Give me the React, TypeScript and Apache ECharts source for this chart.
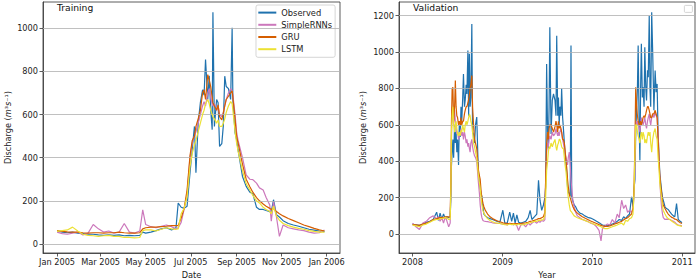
import React, { useEffect, useRef } from "react";
import * as echarts from "echarts";

const SERIES_NAMES = ["Observed", "SimpleRNNs", "GRU", "LSTM"];
const COLORS = ["#1f72ae", "#cc78bc", "#d55e00", "#ece133"];

// ---------- Training (days after 2005-01-01) ----------
const trainStart = "2005-01-01";
const trainDays = [0, 7, 14, 21, 28, 35, 42, 49, 56, 63, 70, 77, 84, 91, 98, 105, 112, 116, 120, 127, 134, 141, 148, 155, 161, 164, 168, 172, 176, 180, 183, 186, 188, 191, 194, 197, 199, 201, 204, 206, 208, 210, 211, 213, 216, 218, 220, 223, 225, 227, 229, 232, 235, 237, 238, 241, 243, 245, 251, 256, 261, 265, 270, 274, 279, 283, 288, 290, 293, 297, 301, 306, 313, 320, 327, 334, 341, 348, 355, 362];
const trainObserved = [60, 55, 52, 55, 50, 48, 45, 45, 42, 40, 42, 40, 42, 38, 40, 38, 40, 55, 50, 55, 62, 70, 75, 65, 75, 190, 170, 165, 175, 330, 440, 545, 330, 560, 655, 715, 690, 855, 670, 780, 620, 530, 1075, 545, 670, 655, 452, 465, 545, 778, 730, 720, 670, 1003, 670, 515, 485, 437, 313, 267, 240, 233, 170, 160, 160, 155, 150, 150, 205, 135, 125, 108, 95, 88, 82, 75, 68, 64, 60, 57];
const trainRNN = [55, 48, 45, 50, 55, 42, 50, 90, 70, 55, 60, 50, 55, 95, 55, 50, 60, 158, 90, 80, 75, 82, 88, 80, 70, 75, 100, 160, 230, 400, 470, 500, 520, 560, 600, 640, 660, 640, 700, 720, 680, 650, 640, 650, 620, 640, 600, 590, 610, 640, 670, 700, 720, 710, 690, 600, 520, 480, 400, 320, 300, 298, 282, 260, 250, 215, 180, 105, 195, 125, 35, 88, 75, 70, 65, 62, 55, 50, 52, 65];
const trainGRU = [62, 58, 56, 55, 55, 52, 50, 52, 52, 50, 52, 52, 55, 52, 50, 50, 52, 70, 75, 78, 78, 80, 82, 85, 85, 85, 120, 165, 250, 410, 480, 500, 545, 580, 620, 700, 715, 670, 785, 760, 730, 680, 655, 640, 620, 645, 590, 575, 605, 640, 670, 685, 700, 710, 680, 580, 500, 470, 370, 300, 265, 240, 215, 200, 185, 175, 165, 160, 165, 150, 140, 130, 118, 108, 98, 88, 80, 72, 65, 60];
const trainLSTM = [58, 62, 65, 78, 60, 45, 40, 38, 35, 38, 40, 35, 35, 30, 30, 28, 30, 62, 65, 65, 60, 68, 75, 70, 68, 70, 140, 165, 220, 360, 420, 460, 480, 520, 560, 600, 620, 650, 670, 650, 620, 600, 590, 580, 560, 575, 545, 545, 560, 580, 610, 640, 660, 650, 620, 520, 470, 430, 340, 280, 250, 225, 200, 190, 170, 160, 150, 140, 175, 130, 110, 95, 85, 78, 72, 68, 62, 58, 55, 55];
const trainTickDates = ["2005-01-01", "2005-03-01", "2005-05-01", "2005-07-01", "2005-09-01", "2005-11-01", "2006-01-01"];
const trainTickLabels = ["Jan 2005", "Mar 2005", "May 2005", "Jul 2005", "Sep 2005", "Nov 2005", "Jan 2006"];
const trainYTicks = [0, 200, 400, 600, 800, 1000];

// ---------- Validation (days after 2008-01-01) ----------
const valStart = "2008-01-01";
const valDays = [0, 14, 28, 42, 56, 70, 84, 98, 105, 112, 119, 126, 133, 140, 147, 153, 156, 158, 161, 164, 167, 171, 174, 177, 180, 183, 187, 190, 194, 197, 200, 204, 207, 211, 214, 218, 221, 225, 228, 231, 234, 237, 241, 244, 248, 252, 256, 261, 265, 268, 272, 275, 279, 282, 286, 290, 296, 305, 315, 325, 335, 345, 355, 367, 375, 385, 395, 403, 410, 417, 424, 431, 440, 450, 460, 470, 478, 485, 495, 505, 512, 518, 525, 532, 538, 541, 545, 549, 552, 555, 558, 563, 568, 573, 579, 583, 586, 590, 593, 596, 599, 603, 606, 610, 613, 617, 620, 624, 627, 630, 633, 637, 641, 644, 647, 652, 657, 663, 670, 680, 690, 700, 712, 724, 736, 748, 758, 766, 772, 782, 792, 802, 812, 822, 832, 840, 850, 858, 866, 874, 882, 890, 896, 900, 904, 907, 911, 914, 917, 921, 924, 927, 930, 934, 937, 941, 944, 948, 951, 955, 958, 962, 965, 968, 972, 976, 981, 986, 990, 994, 998, 1002, 1005, 1009, 1012, 1016, 1019, 1026, 1032, 1039, 1046, 1053, 1060, 1066, 1073, 1080, 1088, 1095];
const valObserved = [55, 50, 48, 55, 65, 70, 80, 120, 75, 115, 80, 110, 85, 95, 90, 95, 200, 370, 450, 520, 420, 600, 500, 560, 450, 520, 380, 600, 534, 700, 620, 750, 880, 700, 734, 820, 770, 1008, 650, 990, 700, 750, 1154, 560, 550, 500, 600, 643, 450, 333, 280, 250, 220, 205, 150, 110, 100, 90, 85, 80, 75, 70, 65, 131, 60, 62, 120, 70, 115, 60, 105, 65, 60, 65, 70, 90, 130, 80, 95, 110, 296, 186, 130, 160, 200, 260, 935, 550, 470, 700, 1136, 550, 734, 770, 734, 650, 1090, 650, 750, 600, 700, 650, 800, 640, 585, 500, 440, 380, 333, 260, 233, 220, 210, 1036, 205, 180, 160, 150, 130, 115, 110, 100, 92, 88, 80, 70, 62, 55, 50, 48, 45, 50, 55, 60, 70, 80, 75, 95, 85, 100, 110, 205, 150, 250, 300, 550, 700, 800, 1036, 600, 405, 800, 1045, 750, 807, 700, 1027, 800, 734, 900, 862, 1200, 800, 700, 1218, 1000, 680, 898, 780, 825, 550, 420, 333, 280, 242, 200, 186, 150, 140, 135, 122, 110, 100, 95, 168, 80, 70, 62];
const valRNN = [60, 40, 25, 60, 70, 90, 100, 85, 95, 70, 90, 60, 95, 70, 40, 60, 300, 500, 700, 650, 600, 680, 620, 580, 550, 560, 520, 540, 560, 580, 540, 560, 520, 560, 540, 500, 520, 480, 500, 470, 450, 500, 520, 480, 450, 430, 420, 400, 330, 280, 220, 160, 110, 90, 75, 72, 70, 68, 65, 62, 60, 58, 58, 55, 55, 50, 60, 55, 50, 60, 45, 20, 50, 55, 40, 60, 50, 60, 70, 60, 70, 65, 75, 70, 80, 300, 450, 500, 480, 520, 540, 520, 560, 540, 550, 580, 560, 540, 560, 540, 560, 580, 560, 520, 500, 470, 440, 420, 400, 380, 420, 450, 380, 300, 250, 180, 150, 120, 100, 90, 80, 75, 70, 60, 55, 40, 20, -37, 30, 45, 55, 50, 80, 60, 110, 90, 186, 140, 160, 120, 130, 120, 140, 200, 350, 600, 620, 600, 620, 580, 560, 600, 640, 620, 600, 620, 640, 600, 580, 620, 640, 660, 620, 600, 640, 660, 640, 670, 650, 640, 560, 400, 300, 200, 150, 110, 90, 80, 82, 80, 80, 75, 70, 65, 55, 50, 48, 45];
const valGRU = [52, 50, 48, 55, 60, 68, 80, 85, 88, 90, 92, 90, 95, 95, 95, 95, 300, 600, 800, 807, 620, 700, 844, 700, 650, 640, 600, 620, 600, 640, 600, 620, 620, 660, 680, 700, 700, 720, 740, 760, 800, 820, 871, 700, 600, 520, 500, 470, 400, 350, 320, 300, 230, 200, 170, 150, 130, 110, 95, 85, 78, 72, 68, 62, 60, 58, 58, 58, 58, 58, 57, 58, 58, 60, 62, 65, 70, 72, 75, 80, 85, 85, 90, 95, 120, 300, 500, 560, 520, 580, 600, 600, 580, 560, 590, 620, 600, 560, 620, 580, 600, 580, 560, 520, 520, 500, 460, 400, 360, 300, 260, 220, 200, 185, 170, 150, 135, 125, 115, 105, 95, 88, 80, 72, 65, 58, 52, 48, 45, 42, 42, 45, 50, 55, 60, 65, 70, 78, 85, 90, 100, 110, 140, 250, 500, 807, 700, 650, 620, 600, 600, 620, 600, 620, 640, 650, 640, 660, 680, 700, 700, 680, 660, 640, 640, 660, 660, 680, 660, 640, 520, 400, 320, 260, 230, 180, 160, 140, 125, 110, 100, 92, 88, 82, 80, 70, 62, 58];
const valLSTM = [50, 45, 40, 50, 55, 65, 75, 80, 80, 85, 85, 88, 90, 88, 80, 80, 250, 550, 650, 700, 600, 560, 600, 620, 580, 550, 540, 560, 540, 570, 560, 600, 580, 560, 600, 620, 600, 620, 640, 660, 650, 620, 600, 560, 500, 480, 450, 420, 360, 320, 280, 250, 190, 160, 130, 115, 100, 85, 75, 68, 62, 60, 58, 55, 52, 50, 55, 52, 55, 52, 50, 55, 50, 52, 55, 60, 62, 65, 70, 70, 75, 75, 78, 80, 100, 200, 350, 400, 450, 480, 470, 500, 480, 500, 520, 480, 460, 490, 500, 520, 520, 500, 480, 470, 470, 420, 380, 340, 290, 240, 200, 160, 130, 125, 120, 110, 100, 95, 90, 85, 80, 75, 68, 62, 55, 50, 45, 40, 35, 30, 30, 35, 40, 45, 50, 55, 60, 50, 75, 70, 85, 90, 110, 220, 450, 600, 600, 560, 540, 520, 500, 540, 560, 520, 560, 540, 500, 520, 500, 540, 560, 540, 560, 500, 450, 520, 560, 580, 540, 520, 420, 350, 280, 230, 200, 150, 130, 110, 95, 85, 80, 72, 65, 60, 52, 48, 45, 42];
const valTickDates = ["2008-01-01", "2009-01-01", "2010-01-01", "2011-01-01"];
const valTickLabels = ["2008", "2009", "2010", "2011"];
const valYTicks = [0, 200, 400, 600, 800, 1000, 1200];

const DAY = 86400000;
const ts = (s: string) => Date.parse(s + "T00:00:00Z");
const FONT = "DejaVu Sans";

function toPairs(start: string, days: number[], vals: number[]) {
  const t0 = ts(start);
  return days.map((d, i) => [t0 + d * DAY, vals[i]]);
}

export default function App() {
  const ref = useRef<HTMLDivElement>(null);
  useEffect(() => {
    document.body.style.margin = "0";
    if (!ref.current) return;
    const chart = echarts.init(ref.current, null, { renderer: "svg" });

    const trainTickTs = trainTickDates.map(ts);
    const valTickTs = valTickDates.map(ts);

    const axisLabelStyle = { fontFamily: FONT, fontSize: 8.2, color: "#222" };
    const yName = "Discharge ({it|m}³{it|s}⁻¹)";
    const nameStyle = {
      fontFamily: FONT,
      fontSize: 8.2,
      color: "#222",
      rich: { it: { fontFamily: FONT, fontSize: 8.2, fontStyle: "italic", color: "#222" } },
    };

    const mkX = (idx: number, min: number, max: number, tickTs: number[], labels: string[], name: string) => ({
      type: "value",
      gridIndex: idx,
      min,
      max,
      scale: true,
      name,
      nameLocation: "middle",
      nameGap: 16,
      nameTextStyle: { fontFamily: FONT, fontSize: 8.2, color: "#222", verticalAlign: "top" },
      axisLine: { show: true, onZero: false, lineStyle: { color: "#333", width: 0.8 } },
      axisTick: { show: true, length: 3.5, customValues: tickTs, lineStyle: { color: "#333", width: 0.8 } },
      axisLabel: {
        ...axisLabelStyle,
        margin: 5,
        customValues: tickTs,
        hideOverlap: false,
        formatter: (v: number) => {
          const i = tickTs.indexOf(v);
          return i >= 0 ? labels[i] : "";
        },
      },
      splitLine: { show: false },
    });

    const mkY = (idx: number, min: number, max: number, ticks: number[], gap: number) => ({
      type: "value",
      gridIndex: idx,
      min,
      max,
      name: yName,
      nameLocation: "middle",
      nameRotate: 90,
      nameGap: gap,
      nameTextStyle: nameStyle,
      axisLine: { show: true, onZero: false, lineStyle: { color: "#333", width: 0.8 } },
      axisTick: { show: true, length: 3.5, customValues: ticks, lineStyle: { color: "#333", width: 0.8 } },
      axisLabel: { ...axisLabelStyle, margin: 5, customValues: ticks, formatter: (v: number) => String(v) },
      splitLine: { show: false },
    });

    const gridSeries = (idx: number, ticks: number[]) => ({
      type: "line",
      name: "__grid" + idx,
      xAxisIndex: idx,
      yAxisIndex: idx,
      data: [],
      z: 1,
      silent: true,
      markLine: {
        silent: true,
        symbol: ["none", "none"],
        label: { show: false },
        lineStyle: { color: "#b0b0b0", width: 0.8, type: "solid" },
        data: ticks.map((v) => ({ yAxis: v })),
      },
    });

    const lineSeries = (idx: number, start: string, days: number[], sets: number[][]) =>
      sets.map((vals, i) => ({
        type: "line",
        name: SERIES_NAMES[i],
        xAxisIndex: idx,
        yAxisIndex: idx,
        data: toPairs(start, days, vals),
        showSymbol: false,
        symbol: "none",
        z: 2 + i,
        color: COLORS[i],
        lineStyle: { color: COLORS[i], width: 1.2 },
      }));

    chart.setOption({
      animation: false,
      textStyle: { fontFamily: FONT },
      grid: [
        { left: 43, top: 2, width: 297, height: 251, outerBoundsMode: "none", containLabel: false, show: true, borderColor: "#333", borderWidth: 0.8, backgroundColor: "transparent" },
        { left: 399, top: 2, width: 296, height: 251, outerBoundsMode: "none", containLabel: false, show: true, borderColor: "#333", borderWidth: 0.8, backgroundColor: "transparent" },
      ],
      title: [
        { text: "Training", left: 57, top: 2.5, padding: 0, textStyle: { fontFamily: FONT, fontSize: 9.2, fontWeight: "normal", color: "#111" } },
        { text: "Validation", left: 413, top: 2.5, padding: 0, textStyle: { fontFamily: FONT, fontSize: 9.2, fontWeight: "normal", color: "#111" } },
      ],
      legend: {
        data: SERIES_NAMES,
        orient: "vertical",
        left: 256,
        top: 5,
        padding: [1.5, 3, 2, 2.3],
        itemWidth: 18,
        itemHeight: 2,
        itemGap: 0,
        icon: "rect",
        borderColor: "#cccccc",
        borderWidth: 0.8,
        borderRadius: 2,
        backgroundColor: "#ffffff",
        textStyle: { fontFamily: FONT, fontSize: 8.3, color: "#222", lineHeight: 12.2 },
      },
      graphic: [
        { type: "rect", left: 684, top: 5, shape: { width: 8, height: 7, r: 1 }, style: { fill: "#fff", stroke: "#cccccc", lineWidth: 0.8 } },
      ],
      xAxis: [
        mkX(0, ts(trainStart) - 19 * DAY, ts(trainStart) + 383 * DAY, trainTickTs, trainTickLabels, "Date"),
        mkX(1, ts(valStart) - 55 * DAY, ts(valStart) + 1148 * DAY, valTickTs, valTickLabels, "Year"),
      ],
      yAxis: [mkY(0, -42, 1122, trainYTicks, 31), mkY(1, -104, 1275, valYTicks, 32)],
      series: [
        gridSeries(0, trainYTicks),
        gridSeries(1, valYTicks),
        ...lineSeries(0, trainStart, trainDays, [trainObserved, trainRNN, trainGRU, trainLSTM]),
        ...lineSeries(1, valStart, valDays, [valObserved, valRNN, valGRU, valLSTM]),
      ],
    });
    return () => chart.dispose();
  }, []);
  return <div ref={ref} style={{ width: 697, height: 279 }} />;
}
